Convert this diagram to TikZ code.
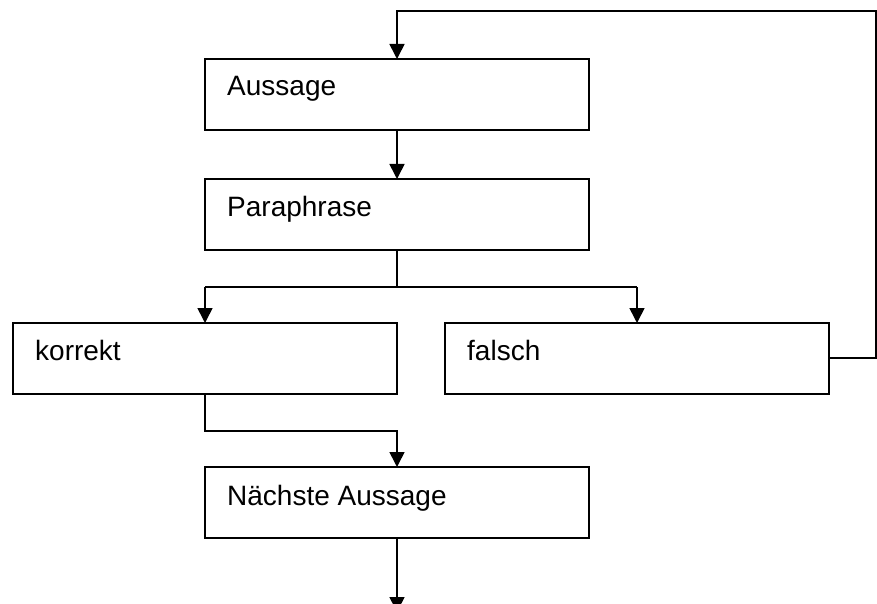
\documentclass[tikz,border=0pt]{standalone}
\usepackage{fontspec}
\setmainfont{Liberation Sans}
\usetikzlibrary{arrows.meta}
\tikzset{
  box/.style={draw=black, line width=1.6pt, fill=white, inner sep=0pt, outer sep=0pt,
    minimum width=384pt, minimum height=71pt, anchor=north west},
  lbl/.style={anchor=base west, inner sep=0pt, font=\fontsize{28}{32}\selectfont},
  conn/.style={draw=black, line width=1.6pt},
  arr/.style={conn, -{Triangle[length=15pt, width=15pt]}}
}
\begin{document}
\begin{tikzpicture}[x=1pt, y=-1pt]
\useasboundingbox (0,0) rectangle (877,604);
\clip (0,0) rectangle (877,604);
\fill[white] (0,0) rectangle (877,604);

\node[box] (A) at (205,59) {};
\node[box] (P) at (205,179) {};
\node[box] (K) at (13,323) {};
\node[box] (F) at (445,323) {};
\node[box] (N) at (205,467) {};

\node[lbl] (tA) at (227,96) {Aussage};
\node[lbl] (tP) at (227,216) {Paraphrase};
\node[lbl] (tK) at (35,360) {korrekt};
\node[lbl] (tF) at (467,360) {falsch};
\node[lbl] (tN) at (227,505) {Nächste Aussage};

\coordinate (fr) at (876,358);
\coordinate (tr) at (876,11);
\coordinate (tl) at (397,11);
\coordinate (split) at (397,287);
\coordinate (sl) at (205,287);
\coordinate (sr) at (637,287);
\coordinate (kj) at (205,431);
\coordinate (nj) at (397,431);
\coordinate (out) at (397,612);

\draw[arr] (F.east |- fr) -- (fr) -- (tr) -- (tl) -- (A.north);
\draw[arr] (A.south) -- (P.north);
\draw[conn] (P.south) -- (split);
\draw[conn] (sl) -- (sr);
\draw[arr] (sl) -- (K.north);
\draw[arr] (sr) -- (F.north);
\draw[arr] (K.south) -- (kj) -- (nj) -- (N.north);
\draw[arr] (N.south) -- (out);
\end{tikzpicture}
\end{document}
